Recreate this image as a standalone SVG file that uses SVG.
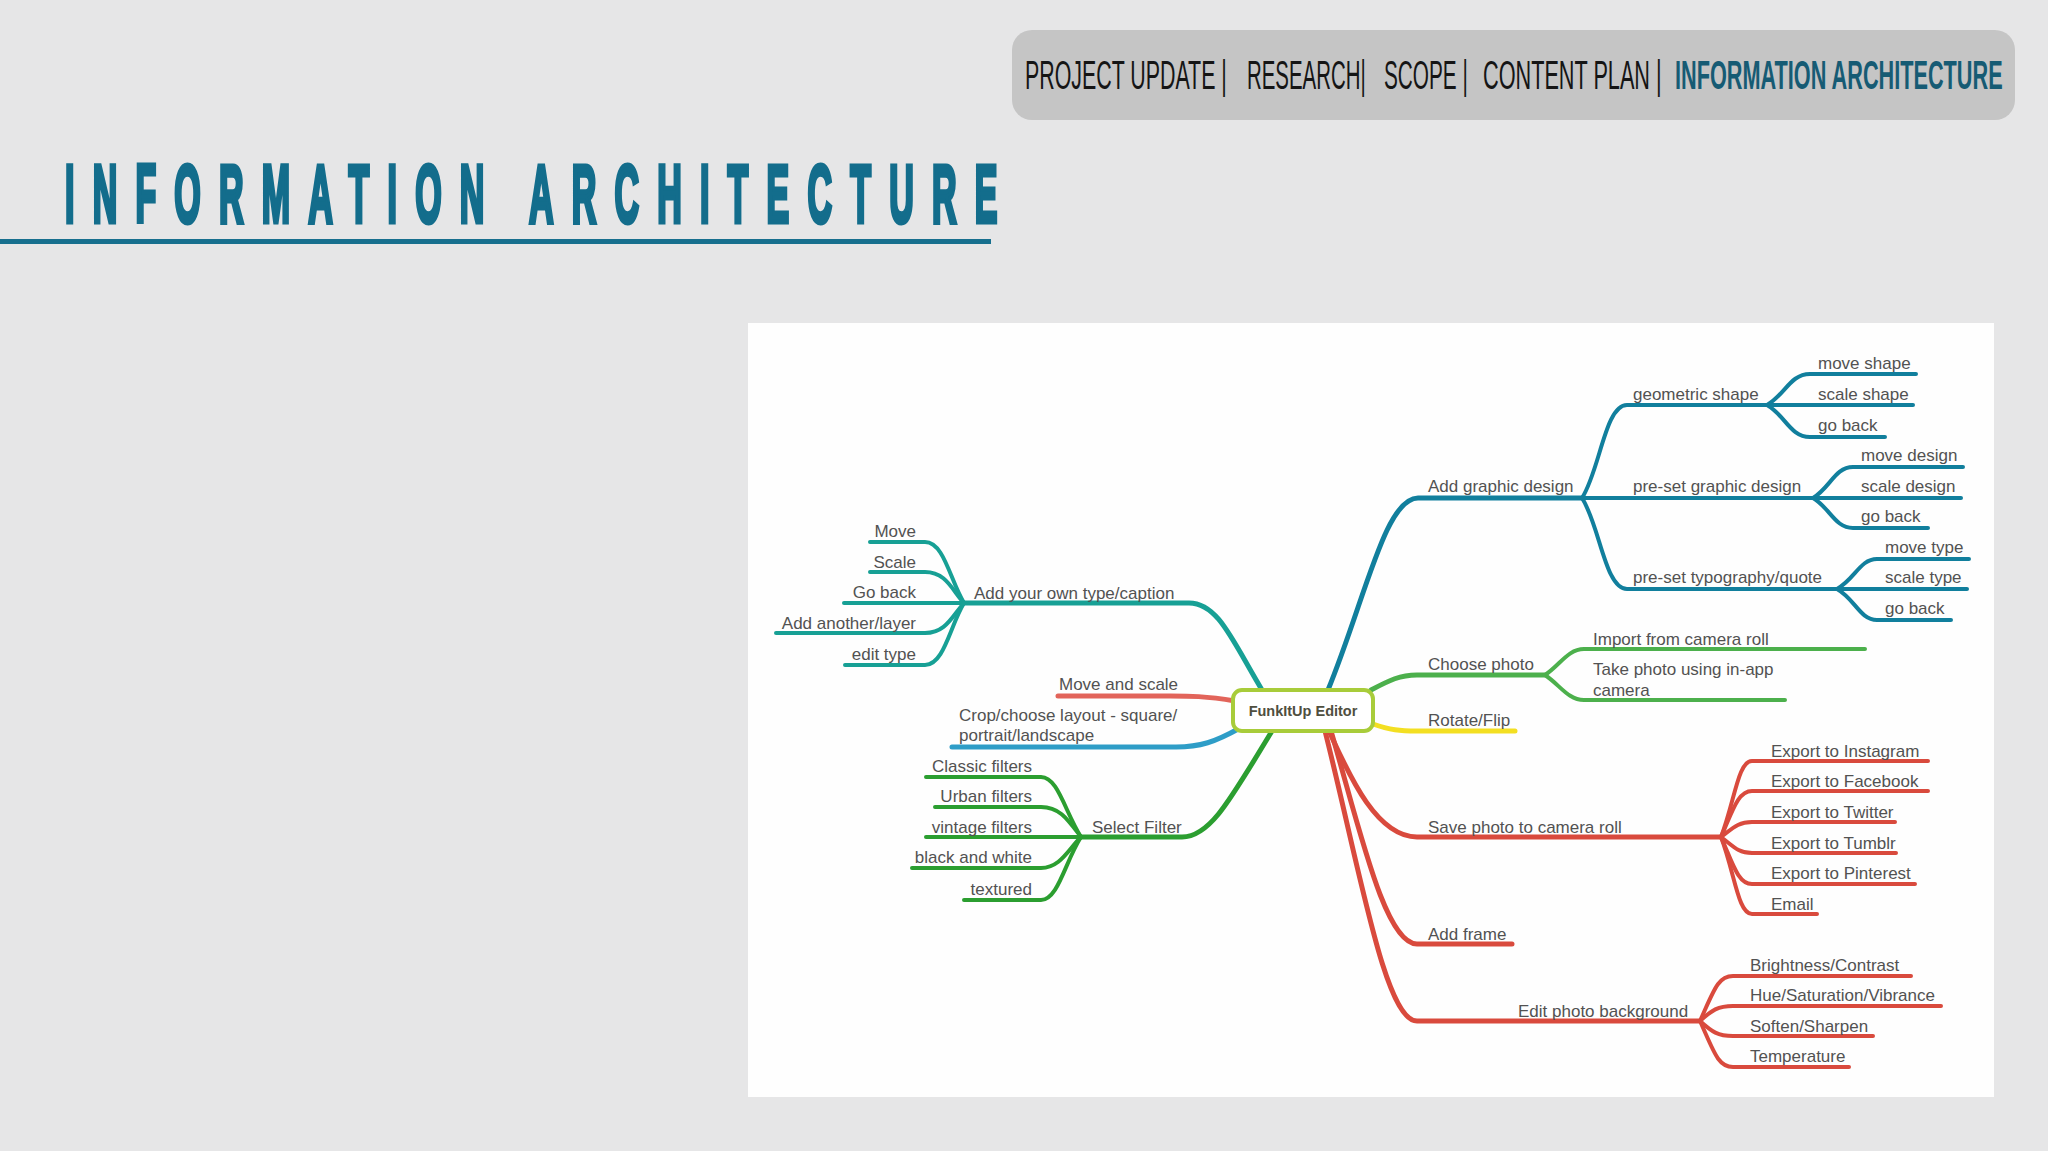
<svg xmlns="http://www.w3.org/2000/svg" width="2048" height="1151" viewBox="0 0 2048 1151">
<style>
.t{font-family:"Liberation Sans",Arial,sans-serif;font-size:17px;fill:#525252}
.e{text-anchor:end}
.nav{font-family:"Liberation Sans Narrow","Liberation Sans",Arial,sans-serif;font-size:40px;fill:#151515}
.navb{fill:#165b74;font-weight:bold}
path{fill:none;stroke-linecap:round;stroke-linejoin:round}
.teal{stroke:#17a095}
.blue{stroke:#2e9dc7}
.dblue{stroke:#117f9d}
.dgreen{stroke:#2b9e30}
.lgreen{stroke:#4cb04c}
.yellow{stroke:#f3df22}
.red{stroke:#d94a3d}
.salmon{stroke:#e2645a}
.m{stroke-width:5}
.c{stroke-width:4}
</style>
<rect x="0" y="0" width="2048" height="1151" fill="#e6e6e7"/>
<g id="nav">
<rect x="1012" y="30" width="1003" height="90" rx="20" fill="#c5c5c5"/>
<text class="nav" transform="translate(1025,89) scale(0.645,1)" textLength="313" lengthAdjust="spacingAndGlyphs">PROJECT UPDATE |</text>
<text class="nav" transform="translate(1247,89) scale(0.645,1)" textLength="184" lengthAdjust="spacingAndGlyphs">RESEARCH|</text>
<text class="nav" transform="translate(1384,89) scale(0.645,1)" textLength="130" lengthAdjust="spacingAndGlyphs">SCOPE |</text>
<text class="nav" transform="translate(1483,89) scale(0.645,1)" textLength="277" lengthAdjust="spacingAndGlyphs">CONTENT PLAN |</text>
<text class="nav navb" transform="translate(1675,89) scale(0.645,1)" textLength="508" lengthAdjust="spacingAndGlyphs">INFORMATION ARCHITECTURE</text>
</g>
<g id="title">
<text transform="translate(65,222) scale(0.42,1)" x="0" y="0" textLength="2220" lengthAdjust="spacing" style="font-family:'Liberation Sans',Arial,sans-serif;font-weight:bold;font-size:81px;fill:#136d8c;stroke:#136d8c;stroke-width:5">INFORMATION ARCHITECTURE</text>
<rect x="0" y="239" width="991" height="5" fill="#176f8e"/>
</g>
<rect id="panel" x="748" y="323" width="1246" height="774" fill="#fefefe"/>
<g id="connectors">
<path class="teal m" d="M 1262 690 C 1232 640 1218 603 1189 603 L 964 603"/>
<path class="teal c" d="M 964 603 C 950 580 944 542 925 542 L 870 542"/>
<path class="teal c" d="M 964 603 C 952 590 946 572 925 572 L 870 572"/>
<path class="teal c" d="M 964 603 L 844 603"/>
<path class="teal c" d="M 964 603 C 952 616 946 633 925 633 L 776 633"/>
<path class="teal c" d="M 964 603 C 950 626 944 665 925 665 L 845 665"/>
<path class="salmon m" d="M 1235 701 C 1205 696 1190 696 1170 696 L 1058 696"/>
<path class="blue m" d="M 1240 728 C 1215 742 1200 747 1176 747 L 952 747"/>
<path class="dgreen m" d="M 1272 731 C 1230 800 1210 837 1182 837 L 1081 837"/>
<path class="dgreen c" d="M 1081 837 C 1065 812 1058 777 1041 777 L 926 777"/>
<path class="dgreen c" d="M 1081 837 C 1068 820 1060 807 1041 807 L 935 807"/>
<path class="dgreen c" d="M 1081 837 L 926 837"/>
<path class="dgreen c" d="M 1081 837 C 1068 850 1060 868 1041 868 L 912 868"/>
<path class="dgreen c" d="M 1081 837 C 1065 862 1058 900 1041 900 L 964 900"/>
<path class="dblue m" d="M 1328 690 C 1365 600 1385 498 1418 498 L 1582 498"/>
<path class="dblue c" d="M 1582 498 C 1600 470 1605 405 1627 405 L 1767 405"/>
<path class="dblue c" d="M 1582 498 L 1813 498"/>
<path class="dblue c" d="M 1582 498 C 1600 526 1605 589 1627 589 L 1837 589"/>
<path class="dblue c" d="M 1767 405 C 1785 395 1790 374 1810 374 L 1916 374"/>
<path class="dblue c" d="M 1767 405 L 1913 405"/>
<path class="dblue c" d="M 1767 405 C 1785 415 1790 437 1810 437 L 1885 437"/>
<path class="dblue c" d="M 1813 498 C 1830 488 1835 467 1853 467 L 1963 467"/>
<path class="dblue c" d="M 1813 498 L 1961 498"/>
<path class="dblue c" d="M 1813 498 C 1830 508 1835 528 1853 528 L 1928 528"/>
<path class="dblue c" d="M 1837 589 C 1855 579 1860 559 1877 559 L 1969 559"/>
<path class="dblue c" d="M 1837 589 L 1967 589"/>
<path class="dblue c" d="M 1837 589 C 1855 599 1860 620 1877 620 L 1951 620"/>
<path class="lgreen m" d="M 1371 690 C 1390 680 1400 675 1417 675 L 1545 675"/>
<path class="lgreen c" d="M 1545 675 C 1560 665 1568 649 1584 649 L 1865 649"/>
<path class="lgreen c" d="M 1545 675 C 1560 685 1568 700 1584 700 L 1785 700"/>
<path class="yellow m" d="M 1373 724 C 1390 730 1400 731 1417 731 L 1515 731"/>
<path class="red m" d="M 1329 731 C 1347 770 1375 837 1417 837 L 1721 837"/>
<path class="red c" d="M 1721 837 C 1735 800 1738 761 1752 761 L 1928 761"/>
<path class="red c" d="M 1721 837 C 1733 810 1738 791 1752 791 L 1928 791"/>
<path class="red c" d="M 1721 837 C 1733 828 1738 822 1752 822 L 1895 822"/>
<path class="red c" d="M 1721 837 C 1733 846 1738 853 1752 853 L 1896 853"/>
<path class="red c" d="M 1721 837 C 1733 864 1738 884 1752 884 L 1915 884"/>
<path class="red c" d="M 1721 837 C 1735 874 1738 914 1752 914 L 1817 914"/>
<path class="red m" d="M 1331 731 C 1360 830 1385 944 1417 944 L 1512 944"/>
<path class="red m" d="M 1325 731 C 1360 870 1385 1021 1417 1021 L 1700 1021"/>
<path class="red c" d="M 1700 1021 C 1714 990 1718 976 1733 976 L 1911 976"/>
<path class="red c" d="M 1700 1021 C 1712 1010 1718 1006 1733 1006 L 1941 1006"/>
<path class="red c" d="M 1700 1021 C 1712 1032 1718 1036 1733 1036 L 1873 1036"/>
<path class="red c" d="M 1700 1021 C 1714 1052 1718 1067 1733 1067 L 1849 1067"/>
</g>
<g id="center">
<rect x="1233" y="690" width="140" height="41" rx="9" fill="#fff" stroke="#a8cc3a" stroke-width="4"/>
<text x="1303" y="716" text-anchor="middle" style="font-family:'Liberation Sans',Arial,sans-serif;font-weight:bold;font-size:14.5px;fill:#4f4f3f">FunkItUp Editor</text>
</g>
<g id="n-caption"><text class="t" x="974" y="599">Add your own type/caption</text></g>
<g id="n-move"><text class="t e" x="916" y="537">Move</text></g>
<g id="n-scale"><text class="t e" x="916" y="568">Scale</text></g>
<g id="n-goback1"><text class="t e" x="916" y="598">Go back</text></g>
<g id="n-addlayer"><text class="t e" x="916" y="629">Add another/layer</text></g>
<g id="n-edittype"><text class="t e" x="916" y="660">edit type</text></g>
<g id="n-movescale"><text class="t" x="1059" y="690">Move and scale</text></g>
<g id="n-crop"><text class="t" x="959" y="721">Crop/choose layout - square/</text><text class="t" x="959" y="741">portrait/landscape</text></g>
<g id="n-filter"><text class="t" x="1092" y="833">Select Filter</text></g>
<g id="n-classic"><text class="t e" x="1032" y="772">Classic filters</text></g>
<g id="n-urban"><text class="t e" x="1032" y="802">Urban filters</text></g>
<g id="n-vintage"><text class="t e" x="1032" y="833">vintage filters</text></g>
<g id="n-bw"><text class="t e" x="1032" y="863">black and white</text></g>
<g id="n-textured"><text class="t e" x="1032" y="895">textured</text></g>
<g id="n-graphic"><text class="t" x="1428" y="492">Add graphic design</text></g>
<g id="n-geo"><text class="t" x="1633" y="400">geometric shape</text></g>
<g id="n-moveshape"><text class="t" x="1818" y="369">move shape</text></g>
<g id="n-scaleshape"><text class="t" x="1818" y="400">scale shape</text></g>
<g id="n-goback2"><text class="t" x="1818" y="431">go back</text></g>
<g id="n-preset"><text class="t" x="1633" y="492">pre-set graphic design</text></g>
<g id="n-movedesign"><text class="t" x="1861" y="461">move design</text></g>
<g id="n-scaledesign"><text class="t" x="1861" y="492">scale design</text></g>
<g id="n-goback3"><text class="t" x="1861" y="522">go back</text></g>
<g id="n-typo"><text class="t" x="1633" y="583">pre-set typography/quote</text></g>
<g id="n-movetype"><text class="t" x="1885" y="553">move type</text></g>
<g id="n-scaletype"><text class="t" x="1885" y="583">scale type</text></g>
<g id="n-goback4"><text class="t" x="1885" y="614">go back</text></g>
<g id="n-choose"><text class="t" x="1428" y="670">Choose photo</text></g>
<g id="n-import"><text class="t" x="1593" y="645">Import from camera roll</text></g>
<g id="n-take"><text class="t" x="1593" y="675">Take photo using in-app</text><text class="t" x="1593" y="696">camera</text></g>
<g id="n-rotate"><text class="t" x="1428" y="726">Rotate/Flip</text></g>
<g id="n-save"><text class="t" x="1428" y="833">Save photo to camera roll</text></g>
<g id="n-insta"><text class="t" x="1771" y="757">Export to Instagram</text></g>
<g id="n-fb"><text class="t" x="1771" y="787">Export to Facebook</text></g>
<g id="n-tw"><text class="t" x="1771" y="818">Export to Twitter</text></g>
<g id="n-tumblr"><text class="t" x="1771" y="849">Export to Tumblr</text></g>
<g id="n-pin"><text class="t" x="1771" y="879">Export to Pinterest</text></g>
<g id="n-email"><text class="t" x="1771" y="910">Email</text></g>
<g id="n-frame"><text class="t" x="1428" y="940">Add frame</text></g>
<g id="n-editbg"><text class="t" x="1518" y="1017">Edit photo background</text></g>
<g id="n-bright"><text class="t" x="1750" y="971">Brightness/Contrast</text></g>
<g id="n-hue"><text class="t" x="1750" y="1001">Hue/Saturation/Vibrance</text></g>
<g id="n-soften"><text class="t" x="1750" y="1032">Soften/Sharpen</text></g>
<g id="n-temp"><text class="t" x="1750" y="1062">Temperature</text></g>
</svg>
